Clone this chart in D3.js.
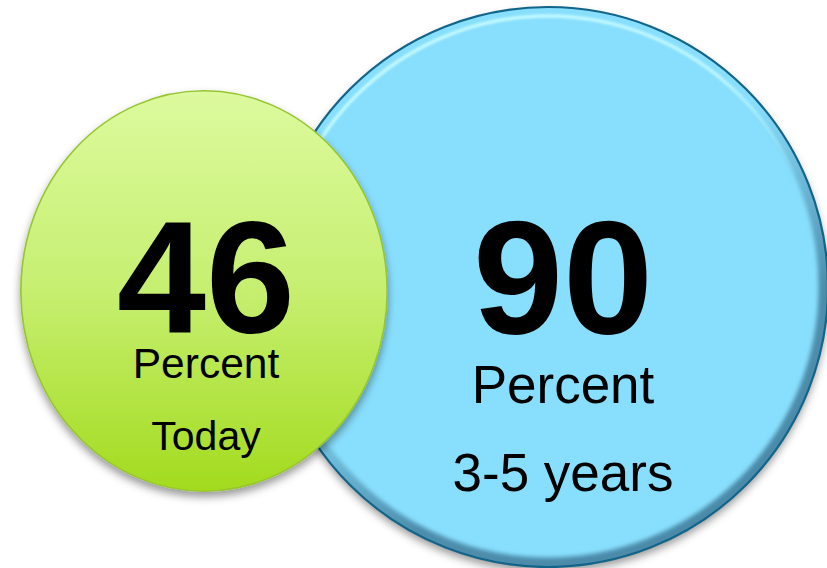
<!DOCTYPE html>
<html>
<head>
<meta charset="utf-8">
<script src="https://cdn.jsdelivr.net/npm/d3@7"></script>
<style>
  html, body { margin: 0; padding: 0; background: #ffffff; }
  svg { display: block; }
</style>
</head>
<body>
<svg id="chart" width="827" height="568"></svg>
<script>
// ---- data ----
const categories = ["Today", "3-5 years"];
const values = [46, 90];
const unitLabels = ["Percent", "Percent"];

// ---- layout / style ----
const W = 827, H = 568;
const svg = d3.select("#chart");
const defs = svg.append("defs");

const rScale = d3.scaleSqrt().domain([0, 90]).range([0, 280]);
const xScale = d3.scaleOrdinal().domain(categories).range([204, 548]);
const cy = [291, 287];
const aspect = [0.915, 1];           // horizontal / vertical radius
const font = "'Liberation Sans', Arial, Helvetica, sans-serif";

// shadows
const sh = defs.append("filter").attr("id", "shadow")
  .attr("x", "-20%").attr("y", "-20%").attr("width", "140%").attr("height", "140%");
sh.append("feDropShadow").attr("dx", 0).attr("dy", 5).attr("stdDeviation", 4)
  .attr("flood-color", "#000").attr("flood-opacity", 0.4);

const blur2 = defs.append("filter").attr("id", "blur2");
blur2.append("feGaussianBlur").attr("stdDeviation", 2.2);
const blur1 = defs.append("filter").attr("id", "blur1");
blur1.append("feGaussianBlur").attr("stdDeviation", 1.2);

// green gradient
const gg = defs.append("linearGradient").attr("id", "greenGrad")
  .attr("x1", 0).attr("y1", 0).attr("x2", 0).attr("y2", 1);
gg.append("stop").attr("offset", "0%").attr("stop-color", "#dcfa9e");
gg.append("stop").attr("offset", "50%").attr("stop-color", "#c6ef70");
gg.append("stop").attr("offset", "100%").attr("stop-color", "#a3db1e");

// blue bevel gradients
const hl = defs.append("linearGradient").attr("id", "hiGrad")
  .attr("x1", 0.2).attr("y1", 0).attr("x2", 0.8).attr("y2", 1);
hl.append("stop").attr("offset", "0%").attr("stop-color", "#c4faff").attr("stop-opacity", 1);
hl.append("stop").attr("offset", "35%").attr("stop-color", "#c4faff").attr("stop-opacity", 0.85);
hl.append("stop").attr("offset", "55%").attr("stop-color", "#c4faff").attr("stop-opacity", 0);
hl.append("stop").attr("offset", "100%").attr("stop-color", "#c4faff").attr("stop-opacity", 0);

const dk = defs.append("linearGradient").attr("id", "dkGrad")
  .attr("x1", 0.2).attr("y1", 0).attr("x2", 0.8).attr("y2", 1);
dk.append("stop").attr("offset", "0%").attr("stop-color", "#4a89a8").attr("stop-opacity", 0);
dk.append("stop").attr("offset", "42%").attr("stop-color", "#4a89a8").attr("stop-opacity", 0);
dk.append("stop").attr("offset", "72%").attr("stop-color", "#4a89a8").attr("stop-opacity", 0.95);
dk.append("stop").attr("offset", "100%").attr("stop-color", "#4a89a8").attr("stop-opacity", 1);

// ---- blue circle (index 1) ----
const bi = 1;
const bx = xScale(categories[bi]), by = cy[bi], br = rScale(values[bi]);
defs.append("clipPath").attr("id", "blueClip")
  .append("circle").attr("cx", bx).attr("cy", by).attr("r", br);

svg.append("circle").attr("cx", bx).attr("cy", by).attr("r", br)
  .attr("fill", "#88dffd").attr("filter", "url(#shadow)");
const bev = svg.append("g").attr("clip-path", "url(#blueClip)");
bev.append("circle").attr("cx", bx).attr("cy", by).attr("r", br - 3)
  .attr("fill", "none").attr("stroke", "url(#dkGrad)").attr("stroke-width", 13)
  .attr("filter", "url(#blur2)");
bev.append("circle").attr("cx", bx).attr("cy", by).attr("r", br - 9)
  .attr("fill", "none").attr("stroke", "url(#hiGrad)").attr("stroke-width", 3.5)
  .attr("filter", "url(#blur1)");
svg.append("circle").attr("cx", bx).attr("cy", by).attr("r", br)
  .attr("fill", "none").attr("stroke", "#12648a").attr("stroke-width", 2.2);

// ---- green ellipse (index 0) ----
const gi = 0;
const gx = xScale(categories[gi]), gy = cy[gi], gr = rScale(values[gi]);
svg.append("ellipse").attr("cx", gx).attr("cy", gy)
  .attr("rx", gr * aspect[gi]).attr("ry", gr)
  .attr("fill", "url(#greenGrad)").attr("stroke", "#97c532").attr("stroke-width", 1.6)
  .attr("filter", "url(#shadow)");

// ---- text ----
const txt = [
  { bigBase: 332, bigSize: 160, unitBase: 378, unitSize: 42.5, catBase: 450, catSize: 41, x: 206 },
  { bigBase: 333, bigSize: 162, unitBase: 403, unitSize: 53, catBase: 491, catSize: 53, x: 563 }
];
values.forEach((v, i) => {
  const t = txt[i];
  svg.append("text").attr("x", t.x).attr("y", t.bigBase)
    .attr("text-anchor", "middle").attr("font-family", font)
    .attr("font-weight", "bold").attr("font-size", t.bigSize).attr("fill", "#000")
    .text(v);
  svg.append("text").attr("x", t.x).attr("y", t.unitBase)
    .attr("text-anchor", "middle").attr("font-family", font)
    .attr("font-size", t.unitSize).attr("fill", "#000")
    .text(unitLabels[i]);
  svg.append("text").attr("x", t.x).attr("y", t.catBase)
    .attr("text-anchor", "middle").attr("font-family", font)
    .attr("font-size", t.catSize).attr("fill", "#000")
    .text(categories[i]);
});
</script>
</body>
</html>
